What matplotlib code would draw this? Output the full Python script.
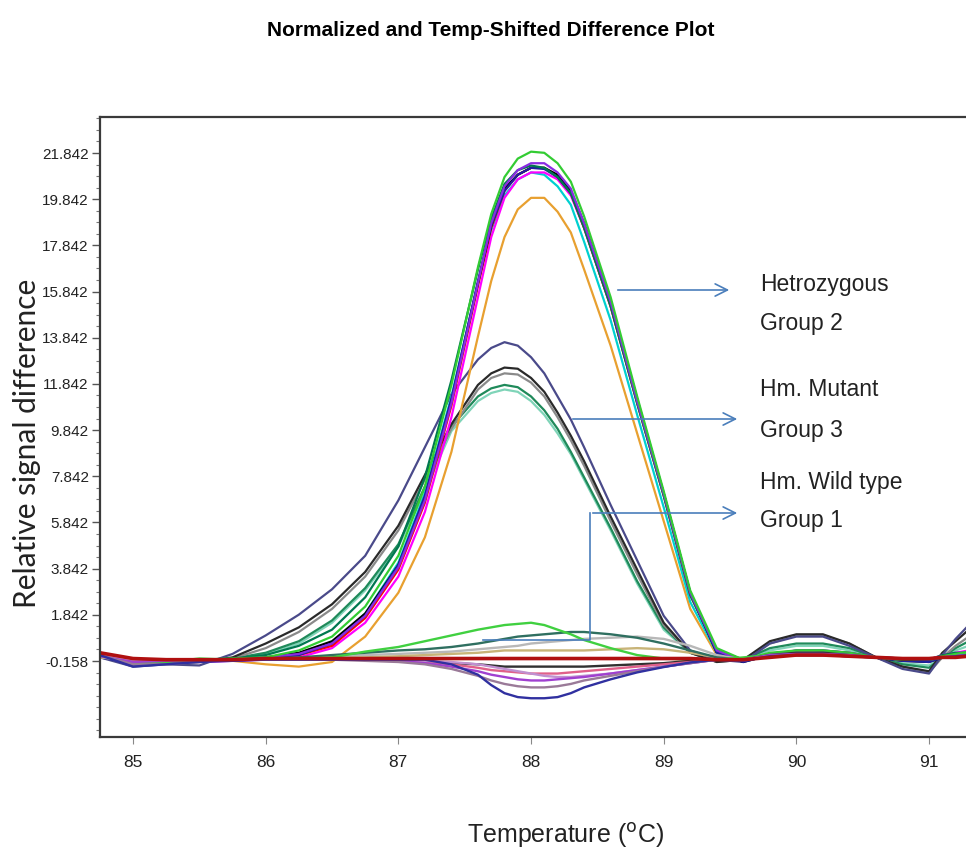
import matplotlib
matplotlib.use("Agg")
import matplotlib.pyplot as plt
from matplotlib.ticker import MultipleLocator, FixedLocator

# temperature grid shared by all traces (deg C)
temps = [84.75, 85.0, 85.25, 85.5, 85.75, 86.0, 86.25, 86.5, 86.75, 87.0,
         87.2, 87.4, 87.6, 87.7, 87.8, 87.9, 88.0, 88.1, 88.2, 88.3,
         88.4, 88.6, 88.8, 89.0, 89.2, 89.4, 89.6, 89.8, 90.0, 90.2,
         90.4, 90.6, 90.8, 91.0, 91.1, 91.2, 91.3]

# Group 2 - heterozygous (tall peak ~88.05)
het_green = [0.2, -0.1, -0.15, -0.1, -0.05, 0.0, 0.3, 0.9, 2.2, 4.4, 7.4, 11.8, 16.9, 19.2, 20.8, 21.6, 21.9, 21.85, 21.4, 20.6,
             19.1, 15.6, 11.3, 7.2, 2.9, 0.4, -0.1, 0.2, 0.3, 0.3, 0.2, 0.0, -0.1, -0.1, 0.05, 0.15, 0.25]
het_darkgreen = [0.1, -0.1, -0.1, -0.1, -0.05, 0.1, 0.5, 1.2, 2.6, 4.8, 7.8, 12.0, 16.8, 19.0, 20.5, 21.1, 21.3, 21.2, 20.8, 20.1,
                 18.6, 15.2, 11.0, 7.0, 2.7, 0.3, -0.1, 0.1, 0.3, 0.3, 0.2, 0.0, -0.1, -0.1, 0.1, 0.2, 0.2]
het_purple = [0.1, -0.2, -0.2, -0.1, -0.1, 0.0, 0.15, 0.6, 1.8, 3.9, 6.8, 11.0, 16.2, 18.8, 20.4, 21.1, 21.4, 21.4, 21.0, 20.3,
              18.8, 15.4, 11.1, 7.1, 2.8, 0.3, -0.15, 0.1, 0.2, 0.2, 0.1, 0.0, -0.1, -0.1, 0.05, 0.1, 0.2]
het_navy = [0.0, -0.25, -0.2, -0.15, -0.15, -0.05, 0.1, 0.6, 1.8, 4.0, 7.0, 11.2, 16.3, 18.7, 20.2, 20.9, 21.2, 21.15, 20.8, 20.1,
            18.7, 15.3, 11.1, 7.1, 2.8, 0.2, -0.2, 0.1, 0.25, 0.25, 0.15, 0.0, -0.15, -0.2, 0.0, 0.1, 0.2]
het_cyan = [0.1, -0.1, -0.15, -0.1, -0.1, 0.0, 0.15, 0.6, 1.9, 4.1, 7.1, 11.3, 16.2, 18.5, 20.0, 20.7, 21.0, 20.9, 20.4, 19.6,
            18.0, 14.6, 10.5, 6.5, 2.4, 0.2, -0.1, 0.1, 0.2, 0.2, 0.1, 0.0, -0.1, -0.1, 0.0, 0.1, 0.15]
het_black = [0.2, -0.2, -0.2, -0.15, -0.1, 0.0, 0.2, 0.7, 1.9, 4.0, 6.9, 11.1, 16.2, 18.7, 20.3, 20.9, 21.2, 21.2, 20.9, 20.2,
             18.8, 15.4, 11.2, 7.1, 2.8, 0.2, -0.2, 0.1, 0.2, 0.2, 0.1, 0.0, -0.15, -0.2, 0.0, 0.1, 0.2]
het_magenta = [0.0, -0.1, -0.15, -0.2, -0.15, -0.1, 0.0, 0.4, 1.5, 3.5, 6.3, 10.4, 15.6, 18.2, 19.9, 20.7, 21.0, 21.0, 20.7, 20.0,
               18.6, 15.2, 11.1, 7.1, 2.8, 0.3, -0.1, 0.15, 0.3, 0.3, 0.2, 0.0, -0.1, -0.1, 0.1, 0.2, 0.3]
het_red = [0.1, -0.15, -0.2, -0.15, -0.1, -0.05, 0.1, 0.5, 1.7, 3.8, 6.7, 10.9, 16.1, 18.6, 20.2, 20.9, 21.2, 21.2, 20.8, 20.1,
           18.6, 15.2, 11.0, 7.0, 2.7, 0.3, -0.1, 0.1, 0.2, 0.2, 0.15, 0.0, -0.1, -0.15, 0.0, 0.1, 0.2]
het_orange = [0.1, -0.1, -0.1, -0.1, -0.15, -0.3, -0.4, -0.2, 0.9, 2.8, 5.2, 8.9, 13.9, 16.3, 18.2, 19.4, 19.9, 19.9, 19.3, 18.4,
              16.8, 13.5, 9.7, 5.9, 2.1, 0.1, -0.1, 0.1, 0.2, 0.2, 0.1, 0.0, -0.1, -0.1, 0.0, 0.1, 0.2]

# Group 3 - homozygous mutant (peak ~87.8)
mut_navy = [0.0, -0.4, -0.3, -0.35, 0.15, 0.95, 1.85, 2.95, 4.4, 6.8, 9.1, 11.4, 12.9, 13.4, 13.65, 13.5, 13.0, 12.3, 11.3, 10.3,
            9.1, 6.6, 4.2, 1.8, 0.3, -0.1, -0.2, 0.6, 0.9, 0.9, 0.5, 0.0, -0.5, -0.7, 0.1, 0.8, 1.4]
mut_black = [0.1, -0.3, -0.25, -0.2, 0.0, 0.6, 1.3, 2.3, 3.7, 5.7, 7.9, 10.1, 11.8, 12.3, 12.55, 12.5, 12.1, 11.5, 10.6, 9.6,
             8.5, 6.1, 3.8, 1.5, 0.2, -0.2, -0.1, 0.7, 1.0, 1.0, 0.6, 0.0, -0.4, -0.6, 0.2, 0.7, 1.2]
mut_gray = [0.1, -0.2, -0.2, -0.15, -0.05, 0.4, 1.1, 2.1, 3.5, 5.5, 7.7, 9.9, 11.6, 12.1, 12.3, 12.25, 11.9, 11.3, 10.4, 9.4,
            8.3, 5.9, 3.6, 1.4, 0.2, -0.2, -0.1, 0.6, 0.95, 0.95, 0.6, 0.0, -0.4, -0.65, 0.0, 0.5, 0.9]
mut_teal = [0.1, -0.2, -0.2, -0.1, -0.05, 0.2, 0.7, 1.6, 3.0, 4.9, 7.4, 10.0, 11.3, 11.65, 11.8, 11.7, 11.3, 10.7, 9.9, 8.9,
            7.8, 5.6, 3.3, 1.3, 0.2, -0.1, -0.1, 0.4, 0.6, 0.6, 0.4, 0.0, -0.3, -0.45, 0.0, 0.4, 0.7]
mut_aqua = [0.1, -0.15, -0.15, -0.1, -0.05, 0.15, 0.6, 1.5, 2.9, 4.8, 7.2, 9.8, 11.1, 11.45, 11.6, 11.5, 11.1, 10.5, 9.7, 8.8,
            7.7, 5.5, 3.2, 1.2, 0.2, -0.1, -0.1, 0.3, 0.5, 0.5, 0.3, 0.0, -0.25, -0.35, 0.0, 0.3, 0.5]

# Group 1 - homozygous wild type (small deviations around baseline)
wt_green = [0.1, -0.25, -0.2, -0.05, -0.1, -0.1, -0.05, 0.0, 0.25, 0.45, 0.7, 0.95, 1.2, 1.3, 1.4, 1.45, 1.5, 1.4, 1.2, 1.0,
            0.75, 0.4, 0.1, -0.05, -0.1, -0.1, 0.0, 0.1, 0.2, 0.2, 0.15, 0.0, -0.1, -0.1, 0.0, 0.1, 0.15]
wt_darkteal = [0.1, -0.2, -0.15, -0.1, -0.1, -0.05, 0.0, 0.1, 0.2, 0.3, 0.35, 0.45, 0.6, 0.7, 0.8, 0.9, 0.95, 1.0, 1.05, 1.1,
               1.1, 1.0, 0.85, 0.6, 0.3, 0.0, -0.1, 0.1, 0.15, 0.2, 0.15, 0.0, -0.1, -0.1, 0.0, 0.05, 0.1]
wt_lightgray = [0.0, -0.1, -0.1, -0.1, -0.1, -0.1, -0.05, 0.0, 0.1, 0.15, 0.2, 0.25, 0.35, 0.4, 0.45, 0.5, 0.6, 0.65, 0.7, 0.75,
                0.8, 0.85, 0.9, 0.8, 0.5, 0.1, -0.1, 0.1, 0.2, 0.2, 0.1, 0.0, -0.1, -0.1, 0.0, 0.05, 0.1]
wt_tan = [0.0, -0.15, -0.1, -0.1, -0.1, -0.1, -0.1, -0.05, 0.0, 0.05, 0.1, 0.15, 0.2, 0.25, 0.3, 0.3, 0.3, 0.3, 0.3, 0.3,
          0.3, 0.35, 0.4, 0.35, 0.2, 0.0, -0.1, 0.05, 0.1, 0.1, 0.05, 0.0, -0.05, -0.05, 0.0, 0.05, 0.05]
wt_darkred = [0.2, -0.05, -0.1, -0.1, -0.1, -0.05, -0.05, -0.05, -0.05, -0.05, -0.05, -0.05, -0.05, -0.05, -0.05, -0.05, -0.05, -0.05, -0.05, -0.05,
              -0.05, -0.05, -0.05, -0.05, -0.05, -0.1, -0.1, 0.0, 0.1, 0.1, 0.05, 0.0, -0.05, -0.05, 0.0, 0.0, 0.05]
wt_black = [0.1, -0.15, -0.1, -0.1, -0.1, -0.1, -0.1, -0.1, -0.1, -0.15, -0.2, -0.25, -0.3, -0.35, -0.4, -0.4, -0.4, -0.4, -0.4, -0.4,
            -0.4, -0.35, -0.3, -0.25, -0.15, -0.1, -0.1, 0.1, 0.2, 0.2, 0.1, 0.0, -0.1, -0.1, 0.0, 0.05, 0.1]
wt_pink = [0.1, -0.1, -0.1, -0.1, -0.1, -0.1, -0.1, -0.1, -0.1, -0.15, -0.2, -0.3, -0.45, -0.55, -0.6, -0.65, -0.7, -0.7, -0.7, -0.65,
           -0.6, -0.5, -0.4, -0.3, -0.2, -0.1, -0.1, 0.05, 0.1, 0.1, 0.05, 0.0, -0.05, -0.05, 0.0, 0.05, 0.1]
wt_lilac = [0.1, -0.1, -0.1, -0.1, -0.1, -0.1, -0.1, -0.1, -0.1, -0.1, -0.15, -0.2, -0.3, -0.4, -0.5, -0.6, -0.7, -0.8, -0.85, -0.85,
            -0.8, -0.7, -0.55, -0.4, -0.25, -0.1, -0.1, 0.05, 0.1, 0.1, 0.05, 0.0, -0.05, -0.05, 0.0, 0.05, 0.1]
wt_violet = [0.05, -0.2, -0.15, -0.1, -0.1, -0.1, -0.1, -0.1, -0.1, -0.15, -0.25, -0.4, -0.6, -0.75, -0.85, -0.95, -1.0, -1.0, -0.95, -0.9,
             -0.85, -0.7, -0.55, -0.4, -0.25, -0.1, -0.1, 0.1, 0.15, 0.15, 0.1, 0.0, -0.05, -0.05, 0.0, 0.05, 0.1]
wt_mauve = [0.1, -0.3, -0.3, -0.2, -0.1, -0.1, -0.1, -0.1, -0.15, -0.2, -0.3, -0.5, -0.8, -1.0, -1.15, -1.25, -1.3, -1.3, -1.25, -1.15,
            -1.0, -0.8, -0.6, -0.4, -0.25, -0.1, -0.1, 0.05, 0.1, 0.1, 0.05, 0.0, -0.05, -0.05, 0.0, 0.05, 0.1]
wt_navy = [0.1, -0.4, -0.3, -0.2, -0.15, -0.1, -0.1, -0.1, -0.1, -0.1, -0.1, -0.3, -0.75, -1.2, -1.55, -1.72, -1.77, -1.77, -1.72, -1.55,
           -1.3, -0.95, -0.65, -0.42, -0.22, -0.1, -0.15, 0.05, 0.1, 0.1, 0.05, 0.0, -0.05, -0.1, 0.0, 0.05, 0.1]

mutant = [(mut_aqua, "#7fd4b8"), (mut_teal, "#1f8a5a"), (mut_gray, "#8a8a8a"),
          (mut_black, "#2a2a2a"), (mut_navy, "#4a4a8a")]
hetero = [(het_orange, "#e8a030"), (het_cyan, "#00d0d0"), (het_magenta, "#ff00ff"),
          (het_red, "#ff0000"), (het_black, "#000000"), (het_navy, "#1f1f9f"),
          (het_darkgreen, "#007850"), (het_purple, "#8a2be2"), (het_green, "#33cc33")]
wildtype = [(wt_lightgray, "#b8b8b8"), (wt_tan, "#c8b478"), (wt_darkteal, "#2f6f60"),
            (wt_green, "#40d040"), (wt_black, "#303030"), (wt_pink, "#e0608a"),
            (wt_lilac, "#c090d0"), (wt_violet, "#a040d0"), (wt_mauve, "#9a7a98"),
            (wt_navy, "#3030a0"), (wt_darkred, "#b01010")]

y_ticks = [-0.158, 1.842, 3.842, 5.842, 7.842, 9.842, 11.842, 13.842, 15.842, 17.842, 19.842, 21.842]
y_labels = ["-0.158", "1.842", "3.842", "5.842", "7.842", "9.842", "11.842", "13.842", "15.842", "17.842", "19.842", "21.842"]
x_ticks = [85, 86, 87, 88, 89, 90, 91]

narrow = ["Liberation Sans", "DejaVu Sans"]

fig = plt.figure(figsize=(9.66, 8.58), dpi=100)
ax = fig.add_axes([0.1035, 0.141, 0.9, 0.7226])

for vals, col in mutant:
    ax.plot(temps, vals, color=col, lw=1.6)
for vals, col in hetero:
    ax.plot(temps, vals, color=col, lw=1.6)
for vals, col in wildtype:
    lw = 2.6 if col == "#b01010" else 1.7
    ax.plot(temps, vals, color=col, lw=lw)

ax.set_xlim(84.751, 91.304)
ax.set_ylim(-3.449, 23.40)

ax.yaxis.set_major_locator(FixedLocator(y_ticks))
ax.set_yticklabels(y_labels, family=narrow, fontsize=11, color="#222222")
ax.yaxis.set_minor_locator(MultipleLocator(0.5, offset=-0.158))
ax.set_xticks(x_ticks)
ax.set_xticklabels([str(v) for v in x_ticks], family=narrow, fontsize=12.5, color="#222222")
ax.tick_params(axis="y", which="major", length=6, width=1, color="#555555", pad=2)
ax.tick_params(axis="y", which="minor", length=3, width=0.8, color="#777777")
ax.tick_params(axis="x", which="major", length=5, width=0.8, color="#888888", pad=8)

for s in ["left", "top", "bottom"]:
    ax.spines[s].set_color("#3a3a3a")
    ax.spines[s].set_linewidth(1.6)
ax.spines["right"].set_visible(False)

fig.text(491 / 966, 1 - 30 / 858, "Normalized and Temp-Shifted Difference Plot",
         ha="center", va="center", fontsize=15, fontweight="heavy", family=narrow)
fig.text(27 / 966, 1 - 443 / 858, "Relative signal difference", rotation=90,
         ha="center", va="center", fontsize=21.5, family=["Lato", "DejaVu Sans"], color="#222222")
fig.text(565 / 966, 1 - 835 / 858, "Temperature ($^{\\mathrm{o}}$C)",
         ha="center", va="center", fontsize=18, family=narrow, color="#222222")

# annotation arrows (figure pixel coordinates)
blue = "#4a7ebb"
arrow = dict(arrowstyle="->", color=blue, lw=1.2, mutation_scale=22)
ax.annotate("", xy=(732, 858 - 290), xytext=(615, 858 - 290),
            xycoords="figure pixels", textcoords="figure pixels", arrowprops=arrow)
ax.annotate("", xy=(740, 858 - 419), xytext=(570, 858 - 419),
            xycoords="figure pixels", textcoords="figure pixels", arrowprops=arrow)
ax.annotate("", xy=(740, 858 - 513), xytext=(590, 858 - 513),
            xycoords="figure pixels", textcoords="figure pixels", arrowprops=arrow)
fig.add_artist(plt.Line2D([483 / 966, 590 / 966, 590 / 966],
                          [1 - 640 / 858, 1 - 640 / 858, 1 - 513 / 858],
                          color=blue, lw=1.2, transform=fig.transFigure))

labels = [("Hetrozygous", 284), ("Group 2", 323), ("Hm. Mutant", 389),
          ("Group 3", 430), ("Hm. Wild type", 483), ("Group 1", 521)]
for txt, ypx in labels:
    fig.text(760 / 966, 1 - ypx / 858, txt, ha="left", va="center",
             fontsize=16.5, family=narrow, color="#222222")

fig.savefig("out.png", dpi=100)
